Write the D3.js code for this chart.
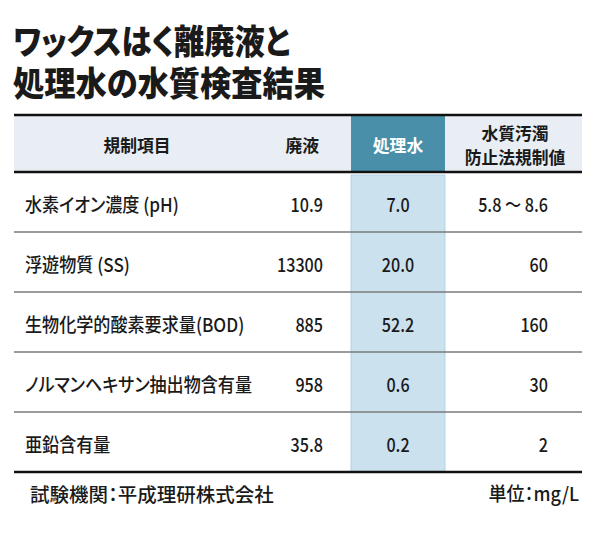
<!DOCTYPE html>
<html><head><meta charset="utf-8">
<script src="https://cdn.jsdelivr.net/npm/d3@7"></script>
<style>
html,body{margin:0;padding:0;background:#fff;}
text{font-family:"Noto Sans CJK JP","Noto Sans",sans-serif;font-feature-settings:"palt";}
</style></head>
<body><svg id="c" width="600" height="556"></svg>
<script>
const titleLines = ["ワックスはく離廃液と", "処理水の水質検査結果"];
const headers = [["規制項目"], ["廃液"], ["処理水"], ["水質汚濁", "防止法規制値"]];
const items = ["水素イオン濃度 (pH)", "浮遊物質 (SS)", "生物化学的酸素要求量(BOD)", "ノルマンヘキサン抽出物含有量", "亜鉛含有量"];
const wasteLiquid = ["10.9", "13300", "885", "958", "35.8"];
const treatedWater = ["7.0", "20.0", "52.2", "0.6", "0.2"];
const standard = ["5.8 〜 8.6", "60", "160", "30", "2"];
const sourceNote = "試験機関：平成理研株式会社";
const unitNote = "単位：mg/L";

const svg = d3.select("#c");
const L = 14, R = 582;
const headTop = 115, headBot = 172, tableBot = 472;
const hlX0 = 351, hlX1 = 445;

const y = d3.scaleBand().domain(items).range([headBot, tableBot]);

function put(sel, x, yy, kx, ky) {
  sel.attr("transform", `translate(${x},${yy}) scale(${kx},${ky || 1})`);
  return sel;
}

// title
const titleW = [277, 312];
titleLines.forEach((t, i) => {
  const tx = svg.append("text")
    .attr("dominant-baseline", "central")
    .attr("font-size", 29).attr("font-weight", 900).attr("fill", "#1a1a1a")
    .attr("textLength", titleW[i]).attr("lengthAdjust", "spacingAndGlyphs")
    .text(t);
  put(tx, 13, [40, 82][i], 1, 1.16);
});

// header band
svg.append("rect").attr("x", L).attr("y", headTop).attr("width", R - L).attr("height", headBot - headTop).attr("fill", "#e8eef3");
svg.append("rect").attr("x", hlX0).attr("y", headTop).attr("width", hlX1 - hlX0).attr("height", headBot - headTop).attr("fill", "#4a8fa9");
// body highlight
svg.append("rect").attr("x", hlX0).attr("y", headBot + 3).attr("width", hlX1 - hlX0).attr("height", tableBot - headBot - 3)
  .attr("fill", "#cbe1ee").attr("stroke", "#a8cde0").attr("stroke-width", 0.8);

// row lines
svg.selectAll("line.row").data(items.slice(1)).join("line").attr("class", "row")
  .attr("x1", L).attr("x2", R).attr("y1", d => y(d)).attr("y2", d => y(d))
  .attr("stroke", "#7a7a7a").attr("stroke-width", 1.6);
[headTop, headBot, tableBot].forEach(v => {
  svg.append("line").attr("x1", L).attr("x2", R).attr("y1", v).attr("y2", v)
    .attr("stroke", "#111").attr("stroke-width", 2.5);
});

// headers
const headX = [137, 319, 398, 515];
const headAnchor = ["middle", "end", "middle", "middle"];
headers.forEach((lines, ci) => {
  lines.forEach((t, li) => {
    const cy = lines.length === 1 ? (headTop + headBot) / 2 + 1 : [132, 156][li];
    const tx = svg.append("text").attr("dominant-baseline", "central")
      .attr("text-anchor", headAnchor[ci]).attr("font-size", 16).attr("font-weight", 700)
      .attr("fill", ci === 2 ? "#fff" : "#1a1a1a").text(t);
    put(tx, headX[ci], cy, 1.05, 1.1);
  });
});

// body
const cy = d => y(d) + y.bandwidth() / 2 + 2;
const bodyText = (t, x, yy, anchor, k) =>
  put(svg.append("text").attr("dominant-baseline", "central").attr("text-anchor", anchor)
    .attr("font-size", 19).attr("font-weight", 500).attr("fill", "#1a1a1a").text(t), x, yy, k);
items.forEach((it, i) => {
  bodyText(it, 25, cy(it), "start", 0.9);
  bodyText(wasteLiquid[i], 323, cy(it), "end", 0.85);
  bodyText(treatedWater[i], 398, cy(it), "middle", 0.85);
  bodyText(standard[i], 548, cy(it), "end", 0.85);
});

// footer
bodyText(sourceNote, 30, 493, "start", 1.0).attr("font-size", 19.5);
bodyText(unitNote, 579, 493, "end", 0.95);
</script></body></html>
